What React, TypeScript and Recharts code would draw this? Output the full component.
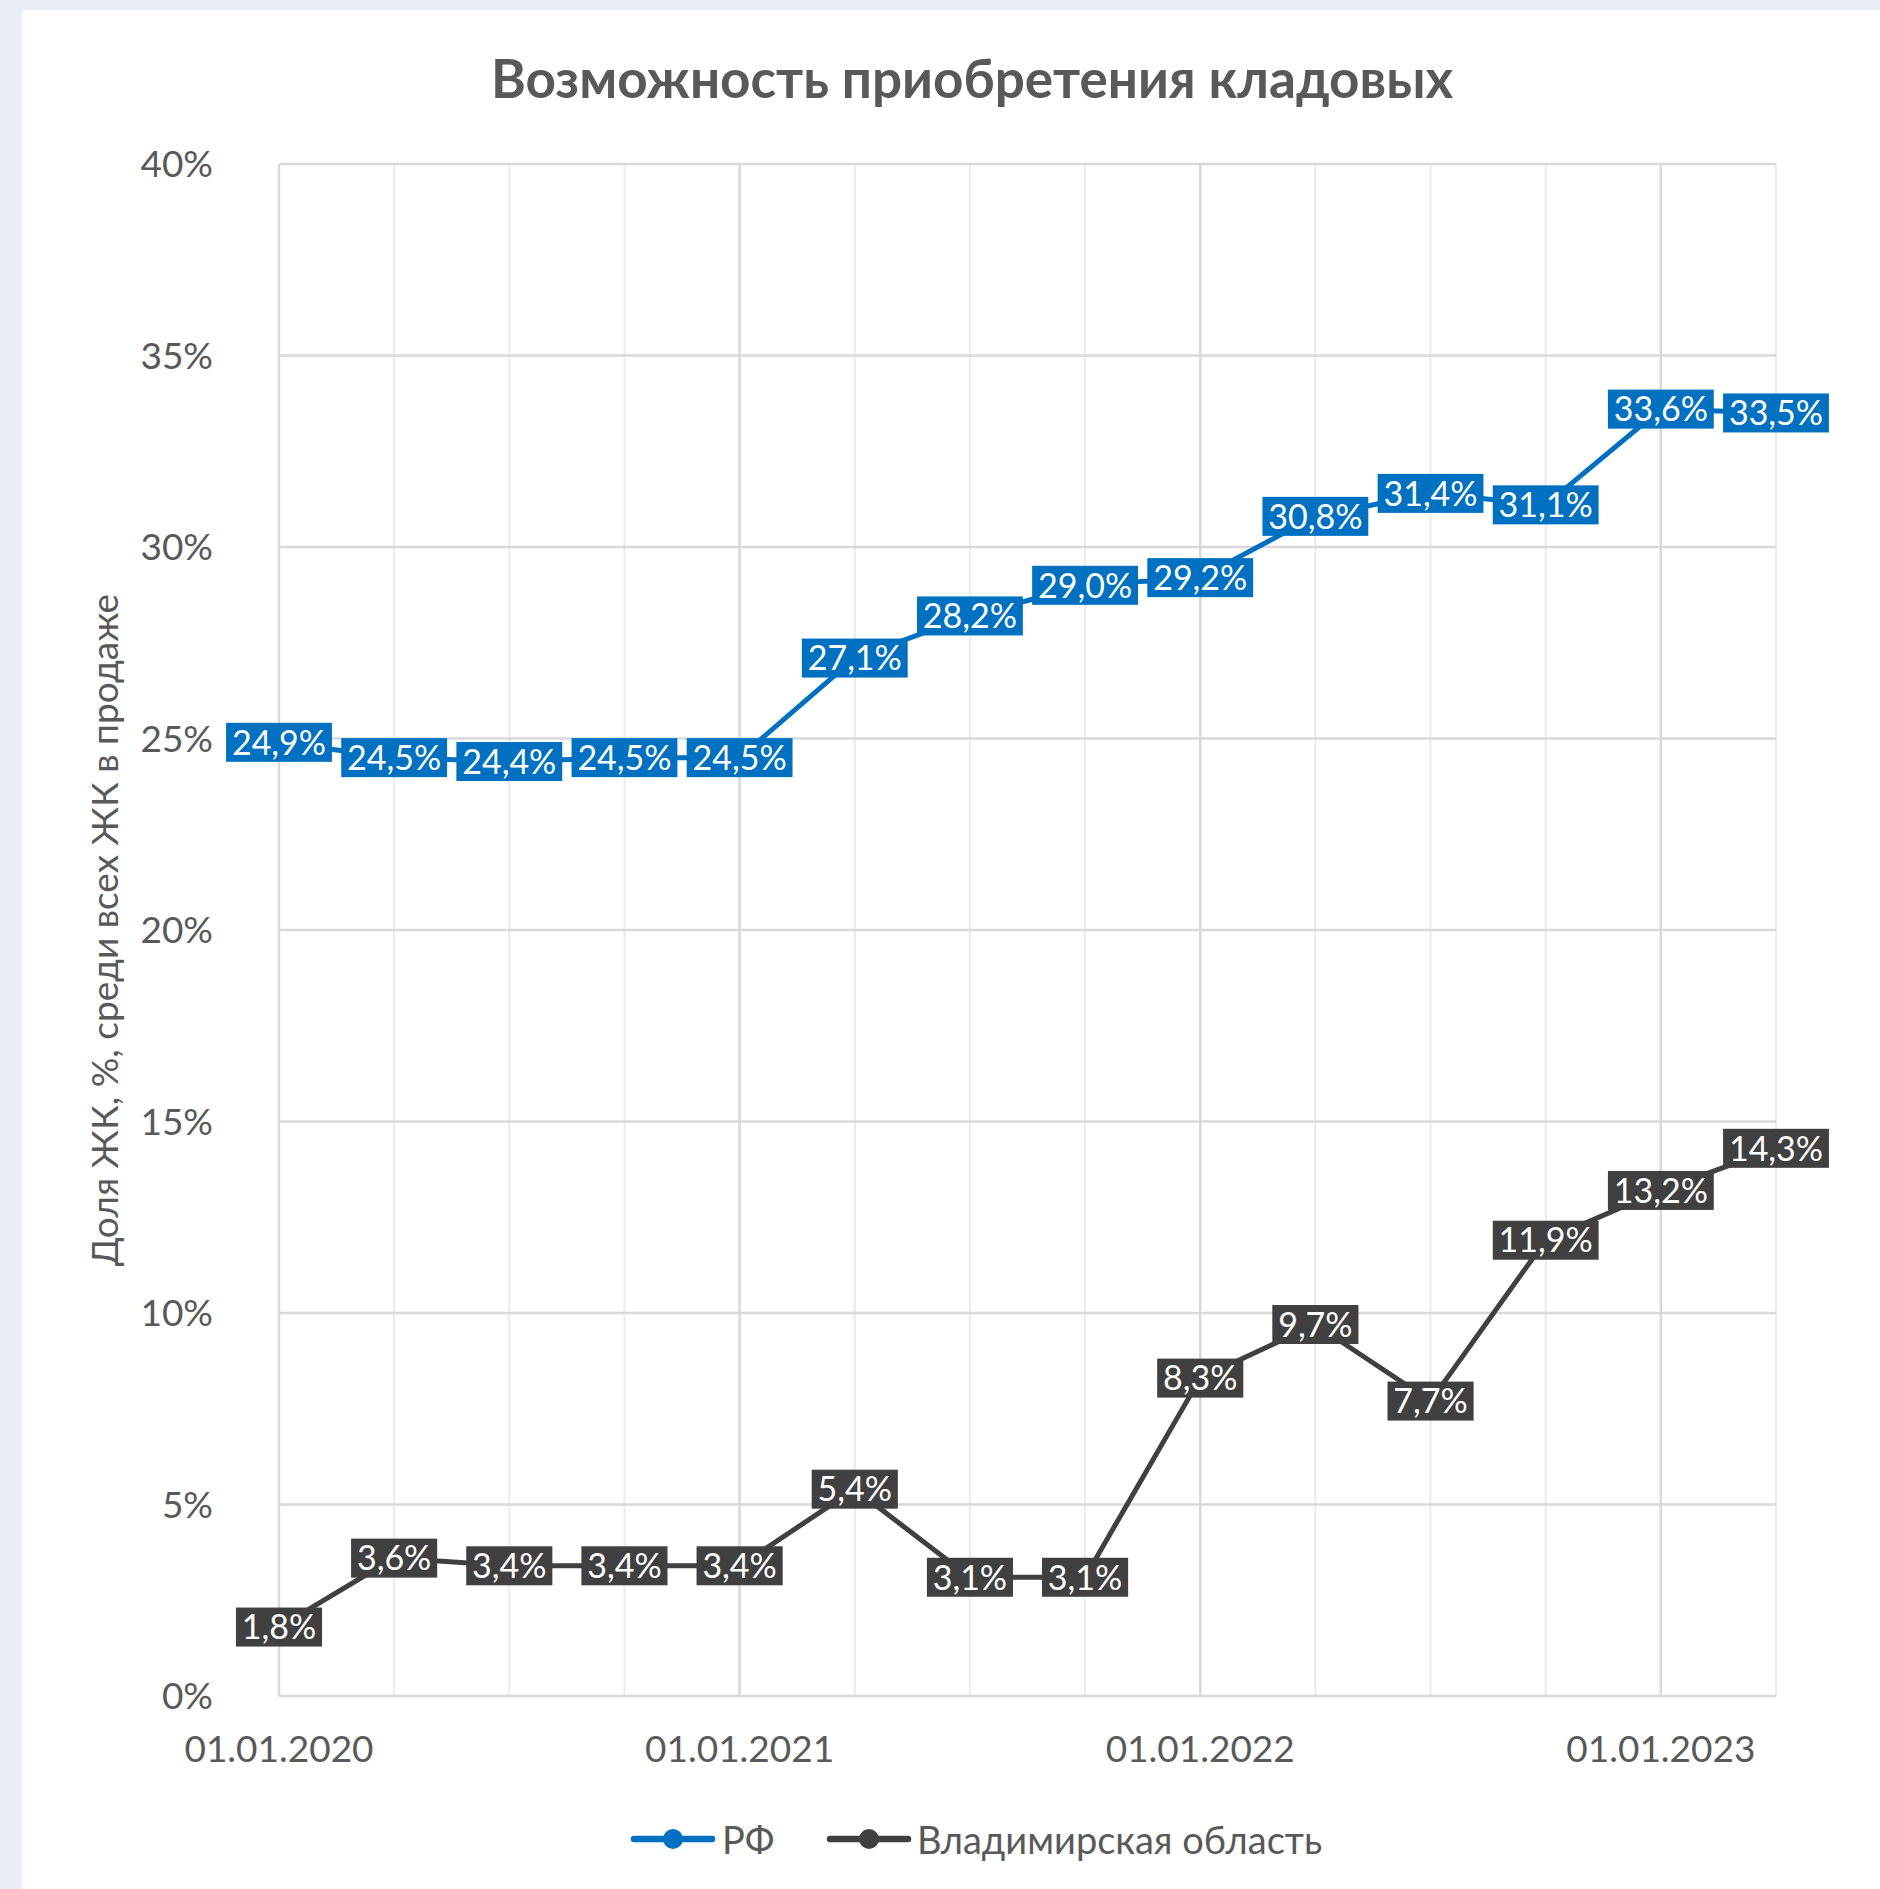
import { LineChart, Line, XAxis, YAxis, CartesianGrid, LabelList, ReferenceLine } from 'recharts'

const dates = [
  '01.01.2020', '01.04.2020', '01.07.2020', '01.10.2020',
  '01.01.2021', '01.04.2021', '01.07.2021', '01.10.2021',
  '01.01.2022', '01.04.2022', '01.07.2022', '01.10.2022',
  '01.01.2023', '01.04.2023',
]
const rfValues = [24.9, 24.5, 24.4, 24.5, 24.5, 27.1, 28.2, 29.0, 29.2, 30.8, 31.4, 31.1, 33.6, 33.5]
const vladValues = [1.8, 3.6, 3.4, 3.4, 3.4, 5.4, 3.1, 3.1, 8.3, 9.7, 7.7, 11.9, 13.2, 14.3]
const yearTicks = ['01.01.2020', '01.01.2021', '01.01.2022', '01.01.2023']
const yTicks = [0, 5, 10, 15, 20, 25, 30, 35, 40]

const title = 'Возможность приобретения кладовых'
const yTitle = 'Доля ЖК, %, среди всех ЖК в продаже'
const rfName = 'РФ'
const vladName = 'Владимирская область'

const BLUE = '#0070C0'
const DARK = '#404040'
const TEXT = '#595959'
const FONT = 'Lato, "Open Sans", sans-serif'
const FS = 37
const LABEL_FS = 34

const data = dates.map((d, i) => ({ date: d, rf: rfValues[i], vlad: vladValues[i] }))

const fmt = (v: number) => v.toFixed(1).replace('.', ',') + '%'

const charW = (c: string) => (c === ',' ? 0.22 : c === '%' ? 0.8 : 0.58)
const textWidth = (s: string) => s.split('').reduce((a, c) => a + charW(c) * LABEL_FS, 0)

const makeLabel = (fill: string) => (props: any) => {
  const { x, y, value } = props
  if (x == null || y == null) return null
  const text = fmt(Number(value))
  const w = textWidth(text) + 12
  const h = 39
  return (
    <g>
      <rect x={x - w / 2} y={y - h / 2} width={w} height={h} fill={fill} />
      <text x={x} y={y} dy="0.36em" textAnchor="middle" fill="#fff" fontSize={LABEL_FS} fontFamily={FONT}>
        {text}
      </text>
    </g>
  )
}

const YTitle = (props: any) => {
  const vb = props.viewBox || { x: 0, y: 0, width: 0, height: 0 }
  const cx = 105
  const cy = vb.y + vb.height / 2
  return (
    <text
      x={cx}
      y={cy}
      transform={`rotate(-90, ${cx}, ${cy})`}
      textAnchor="middle"
      dy="0.36em"
      fill={TEXT}
      fontSize={FS}
      fontFamily={FONT}
    >
      {yTitle}
    </text>
  )
}

const LegendIcon = ({ color }: { color: string }) => (
  <svg width={86} height={26} style={{ display: 'block' }}>
    <line x1={4} y1={13} x2={82} y2={13} stroke={color} strokeWidth={6.5} strokeLinecap="round" />
    <circle cx={43} cy={13} r={10} fill={color} />
  </svg>
)

export default function App() {
  return (
    <div style={{ position: 'absolute', left: 0, top: 0, width: 1880, height: 1889, background: '#E9EDF4', fontFamily: FONT }}>
      <div style={{ position: 'absolute', left: 22, top: 10, width: 1858, height: 1879, background: '#fff' }} />
      <div
        style={{
          position: 'absolute', left: 422, top: 47, width: 1100, textAlign: 'center',
          fontSize: 53, fontWeight: 700, color: TEXT, lineHeight: '62px',
        }}
      >
        {title}
      </div>
      <div style={{ position: 'absolute', left: 0, top: 0 }}>
        <LineChart width={1880} height={1889} data={data} margin={{ top: 164, right: 104, bottom: 133, left: 0 }}>
          <CartesianGrid stroke="#EBEBEB" strokeWidth={2} horizontal={false} />
          {yearTicks.map((d) => (
            <ReferenceLine key={d} x={d} stroke="#D9D9D9" strokeWidth={2.5} />
          ))}
          {yTicks.map((t) => (
            <ReferenceLine key={t} y={t} stroke="#D9D9D9" strokeWidth={2.5} />
          ))}
          <XAxis
            dataKey="date"
            interval={0}
            height={60}
            tickFormatter={(d: string) => (yearTicks.includes(d) ? d : '')}
            axisLine={false}
            tickLine={false}
            tickSize={0}
            tickMargin={40}
            tick={{ fill: TEXT, fontSize: FS, fontFamily: FONT }}
          />
          <YAxis
            width={279}
            domain={[0, 40]}
            ticks={yTicks}
            tickFormatter={(v: number) => `${v}%`}
            axisLine={false}
            tickLine={false}
            tickSize={0}
            tickMargin={66}
            tick={{ fill: TEXT, fontSize: FS, fontFamily: FONT }}
            label={<YTitle />}
          />
          <Line
            dataKey="rf"
            name={rfName}
            stroke={BLUE}
            strokeWidth={5}
            dot={{ r: 7, fill: BLUE, stroke: BLUE }}
            isAnimationActive={false}
          >
            <LabelList dataKey="rf" content={makeLabel(BLUE)} />
          </Line>
          <Line
            dataKey="vlad"
            name={vladName}
            stroke={DARK}
            strokeWidth={5}
            dot={{ r: 7, fill: DARK, stroke: DARK }}
            isAnimationActive={false}
          >
            <LabelList dataKey="vlad" content={makeLabel(DARK)} />
          </Line>
        </LineChart>
      </div>
      <div style={{ position: 'absolute', left: 630, top: 1826 }}>
        <LegendIcon color={BLUE} />
      </div>
      <div style={{ position: 'absolute', left: 722, top: 1816, fontSize: 38, color: TEXT, lineHeight: '46px' }}>{rfName}</div>
      <div style={{ position: 'absolute', left: 826, top: 1826 }}>
        <LegendIcon color={DARK} />
      </div>
      <div style={{ position: 'absolute', left: 917, top: 1816, fontSize: 38, color: TEXT, lineHeight: '46px' }}>{vladName}</div>
    </div>
  )
}
